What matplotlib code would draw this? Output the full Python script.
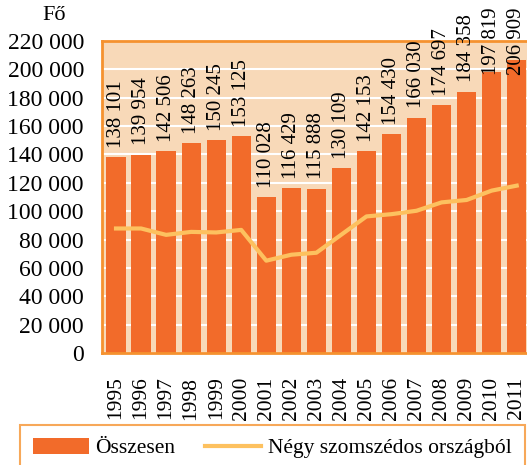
import matplotlib
matplotlib.use("Agg")
from matplotlib import pyplot as plt
import numpy as np

years = ["1995", "1996", "1997", "1998", "1999", "2000", "2001", "2002", "2003",
         "2004", "2005", "2006", "2007", "2008", "2009", "2010", "2011"]
osszesen = [138101, 139954, 142506, 148263, 150245, 153125, 110028, 116429, 115888,
            130109, 142153, 154430, 166030, 174697, 184358, 197819, 206909]
szomszedos = [87800, 87800, 83300, 85400, 85000, 86800, 65100, 69300, 70700,
              83500, 96300, 97900, 100300, 106200, 107900, 114500, 118000]
yticks = np.arange(0, 220001, 20000)

bar_color = "#F26B2A"
bg_color = "#F8D9B8"
line_color = "#FDC15F"
frame_color = "#F5922F"

plt.rcParams["font.family"] = ["Liberation Serif", "DejaVu Serif"]
plt.rcParams["font.size"] = 15

W, H = 527, 465
fig = plt.figure(figsize=(W / 100, H / 100), dpi=100)
ax = fig.add_axes([102 / W, (H - 353) / H, 435 / W, 312 / H])
ax.set_facecolor(bg_color)

x = np.arange(len(years))
bars = ax.bar(x, osszesen, width=0.77, color=bar_color, zorder=2)
line, = ax.plot(x, szomszedos, color=line_color, lw=3, zorder=3)

ax.set_xlim(-0.56, 16.81)
ax.set_ylim(0, 220000)
ax.set_yticks(yticks)
ax.set_yticklabels([f"{v:,}".replace(",", " ") for v in yticks], fontsize=17)
ax.set_xticks(x)
ax.set_xticklabels(years, rotation=90, fontsize=15.5)
ax.tick_params(axis="both", length=0)
ax.tick_params(axis="y", pad=13)
ax.tick_params(axis="x", pad=17)
ax.grid(axis="y", color="white", lw=1.5, zorder=1)
ax.set_axisbelow(True)

for side in ["left", "top", "bottom"]:
    ax.spines[side].set_color(frame_color)
    ax.spines[side].set_linewidth(2)
ax.spines["right"].set_visible(False)

# value labels above bars, pushed down near the top of the figure
for xi, v in zip(x, osszesen):
    ax.text(xi, min(v + 6500, 196000), f"{v:,}".replace(",", " "), rotation=90,
            ha="center", va="bottom", clip_on=False, zorder=4)

fig.text(54 / W, 1 - 16 / H, "Fő", ha="center", va="center", fontsize=16)

leg = fig.legend([bars, line], ["Összesen", "Négy szomszédos országból"],
                 loc="upper left", bbox_to_anchor=(20 / W, 1 - 425 / H), ncol=2,
                 frameon=True, fancybox=False, handlelength=2.6, handleheight=0.75,
                 handletextpad=0.3, columnspacing=1.4, borderpad=0.6,
                 borderaxespad=0, fontsize=15.5)
leg.get_frame().set_edgecolor(frame_color)
leg.get_frame().set_linewidth(1.5)

fig.savefig("out.png", dpi=100)
